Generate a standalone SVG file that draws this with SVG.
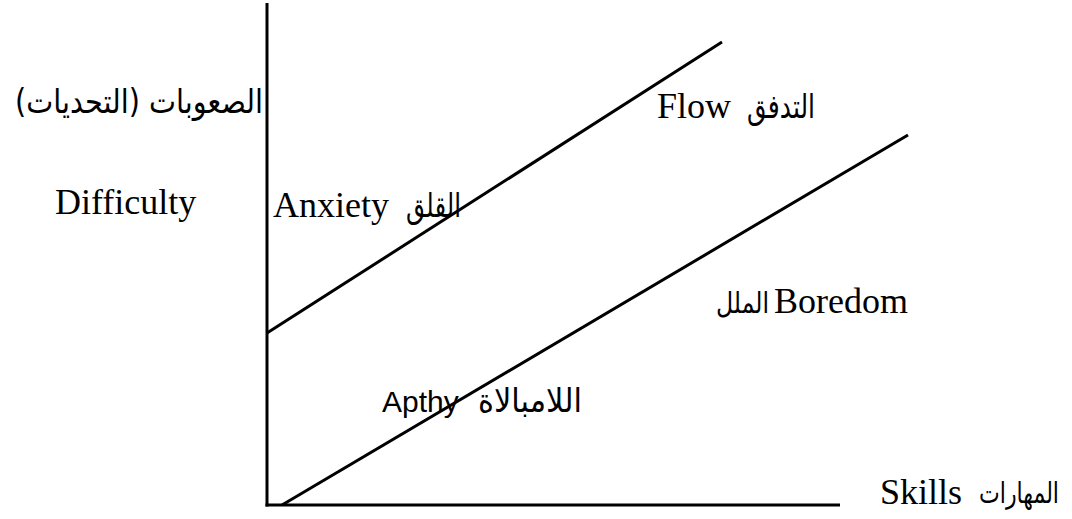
<svg xmlns="http://www.w3.org/2000/svg" width="1072" height="519" viewBox="0 0 1072 519">
<style>
.ax{stroke:#000;stroke-width:3;fill:none;stroke-linecap:butt}
.lat{font-family:"Liberation Serif","Times New Roman",serif;font-size:36px;fill:#000}
.sans{font-family:"Liberation Sans",Arial,sans-serif;font-size:30px;fill:#000}
.ar{font-family:"DejaVu Sans","Noto Sans",sans-serif;font-size:33px;fill:#000}
.ars{font-family:"DejaVu Sans","Noto Sans",sans-serif;font-size:29px;fill:#000}
</style>
<rect width="1072" height="519" fill="#fff"/>
<g id="connectors">
<line class="ax" x1="267" y1="3" x2="267" y2="506.5"/>
<line class="ax" x1="265.5" y1="505" x2="840" y2="505"/>
<line class="ax" x1="267" y1="333" x2="722" y2="42"/>
<line class="ax" x1="282" y1="505" x2="908" y2="135"/>
</g>
<g id="y-axis-label">
<text class="ar" x="139" y="113" text-anchor="middle" direction="rtl" textLength="248" lengthAdjust="spacingAndGlyphs">الصعوبات (التحديات)</text>
<text class="lat" x="55" y="214">Difficulty</text>
</g>
<g id="anxiety">
<text class="lat" x="273" y="217">Anxiety</text>
<text class="ar" x="406" y="217" textLength="55" lengthAdjust="spacingAndGlyphs">القلق</text>
</g>
<g id="flow">
<text class="lat" x="657" y="118">Flow</text>
<text class="ar" x="747" y="118" textLength="68" lengthAdjust="spacingAndGlyphs">التدفق</text>
</g>
<g id="boredom">
<text class="ars" x="716" y="313" textLength="53" lengthAdjust="spacingAndGlyphs">الملل</text>
<text class="lat" x="774" y="313">Boredom</text>
</g>
<g id="apathy">
<text class="sans" x="382" y="412">Apthy</text>
<text class="ar" x="478" y="412" textLength="104" lengthAdjust="spacingAndGlyphs">اللامبالاة</text>
</g>
<g id="x-axis-label">
<text class="lat" x="880" y="504">Skills</text>
<text class="ars" x="979" y="503" textLength="80" lengthAdjust="spacingAndGlyphs">المهارات</text>
</g>
</svg>
